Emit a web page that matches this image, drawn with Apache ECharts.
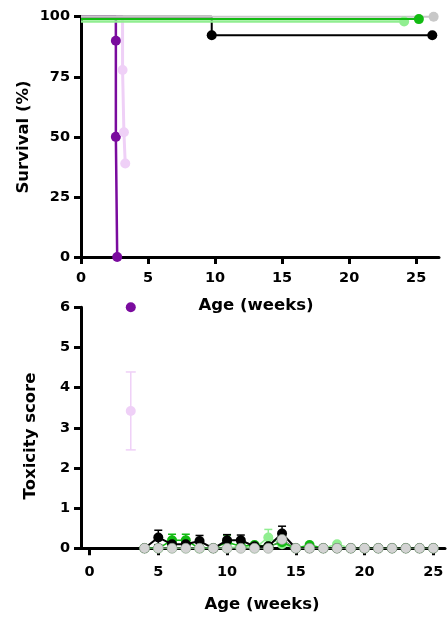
<!DOCTYPE html>
<html><head><meta charset="utf-8">
<script src="https://cdn.jsdelivr.net/npm/echarts@6/dist/echarts.min.js"></script>
<style>html,body{margin:0;padding:0;background:#fff}#c{width:447px;height:618px}</style>
</head><body><div id="c"></div>
<script>
// ---- Survival (Kaplan-Meier steps) ----
const survTicksX = [0, 5, 10, 15, 20, 25];
const survTicksY = [0, 25, 50, 75, 100];
const blackT = [0, 9.75, 26.2];       const blackS = [100, 92.3, 92.3];   const blackM = [0, 1, 1];
const grayT = [0, 26.3];              const grayS = [100, 100];           const grayM = [0, 1];
const lgreenT = [0, 24.1];            const lgreenS = [98, 98];           const lgreenM = [0, 1];
const greenT = [0, 25.2];             const greenS = [99, 99];            const greenM = [0, 1];
const purpleT = [0, 2.6, 2.6, 2.7];   const purpleS = [100, 90, 50, 0];   const purpleM = [0, 1, 1, 1];
const pinkT = [0, 3.1, 3.2, 3.3];     const pinkS = [100, 77.8, 51.9, 38.9]; const pinkM = [0, 1, 1, 1];

// ---- Toxicity score ----
const toxTicksX = [0, 5, 10, 15, 20, 25];
const toxTicksY = [0, 1, 2, 3, 4, 5, 6];
const weeks = [4,5,6,7,8,9,10,11,12,13,14,15,16,17,18,19,20,21,22,23,24,25];
const blackTox   = [0,0.27,0.1,0.1,0.18,0,0.2,0.2,0.05,0.05,0.37,0,0,0,0,0,0,0,0,0,0,0];
const blackErr   = [0,0.18,0,0,0.14,0,0.14,0.13,0,0,0.18,0,0,0,0,0,0,0,0,0,0,0];
const greenTox   = [0,0,0.2,0.2,0,0,0.15,0.05,0.08,0.05,0.15,0,0.08,0,0,0,0,0,0,0,0,0];
const greenErr   = [0,0,0.15,0.15,0,0,0.18,0,0,0,0,0,0,0,0,0,0,0,0,0,0,0];
const lgreenTox  = [0,0,0,0,0,0,0,0.05,0,0.27,0.1,0,0,0,0.1,0,0,0,0,0,0,0];
const lgreenErr  = [0,0,0,0,0,0,0,0,0,0.2,0,0,0,0,0,0,0,0,0,0,0,0];
const grayTox    = [0,0,0,0,0,0,0,0,0,0,0.22,0,0,0,0,0,0,0,0,0,0,0];
const pinkWeek = [3];   const pinkTox = [3.42];  const pinkErr = [0.97];
const purpleWeek = [3]; const purpleTox = [6.0];

const C = {black:'#000000', gray:'#d3d3d3', green:'#12bb12', lgreen:'#90ee90', purple:'#7a0b9e', pink:'#efd0f7'};
const FONT = '"DejaVu Sans", Verdana, sans-serif';

function km(name, T, S, M, color, size, lw, z) {
  return {
    type: 'line', name, xAxisIndex: 0, yAxisIndex: 0, step: 'end', z,
    data: T.map((t, i) => ({value: [t, S[i]], symbol: M[i] ? 'circle' : 'none'})),
    symbolSize: size, showAllSymbol: true, clip: false,
    lineStyle: {color, width: lw}, itemStyle: {color}, animation: false
  };
}
function toxLine(name, X, Y, color, lineColor, lw, z, border) {
  return {
    type: 'line', name, xAxisIndex: 1, yAxisIndex: 1, z,
    data: X.map((x, i) => [x, Y[i]]), symbol: 'circle', symbolSize: 10, showAllSymbol: true, clip: false,
    lineStyle: {color: lineColor, width: lw},
    itemStyle: border ? {color, borderColor: border, borderWidth: 0.6} : {color}, animation: false
  };
}
function errBars(name, X, Y, E, color, half, lw, z) {
  const data = [];
  X.forEach((x, i) => { if (E[i] > 0) data.push([x, Math.max(0, Y[i] - E[i]), Y[i] + E[i], Y[i] - E[i] > 0 ? 1 : 0]); });
  return {
    type: 'custom', name, xAxisIndex: 1, yAxisIndex: 1, z, data, clip: false, animation: false,
    encode: {x: 0, y: [1, 2]},
    renderItem: (p, api) => {
      const lo = api.coord([api.value(0), api.value(1)]);
      const hi = api.coord([api.value(0), api.value(2)]);
      const st = {stroke: color, lineWidth: lw};
      const ch = [
        {type: 'line', shape: {x1: lo[0], y1: lo[1], x2: hi[0], y2: hi[1]}, style: st},
        {type: 'line', shape: {x1: hi[0] - half, y1: hi[1], x2: hi[0] + half, y2: hi[1]}, style: st}
      ];
      if (api.value(3)) ch.push({type: 'line', shape: {x1: lo[0] - half, y1: lo[1], x2: lo[0] + half, y2: lo[1]}, style: st});
      return {type: 'group', children: ch};
    }
  };
}

const axLine = {show: true, onZero: false, lineStyle: {color: '#000', width: 3}};
const axTick = (vals) => ({show: true, length: 7, lineStyle: {color: '#000', width: 3}, customValues: vals});
const lab = (vals, margin) => ({color: '#000', fontFamily: FONT, fontWeight: 'bold', fontSize: 14.5, margin, customValues: vals});
const titleFont = 'bold 16.5px ' + FONT;
const title = (text, x, y, rot) => ({
  type: 'text', x, y, rotation: rot ? Math.PI / 2 : 0, silent: true,
  style: {text, font: titleFont, fill: '#000', align: 'center', verticalAlign: 'middle'}
});

const option = {
  backgroundColor: '#fff',
  grid: [
    {left: 81, top: 16.7, width: 358, height: 240.3},
    {left: 81, top: 307.3, width: 364, height: 241}
  ],
  graphic: [
    title('Age (weeks)', 256, 306, false),
    title('Survival (%)', 24, 137, true),
    title('Age (weeks)', 262, 605, false),
    title('Toxicity score', 31, 436, true)
  ],
  xAxis: [
    {type: 'value', gridIndex: 0, min: 0, max: 26.7, splitLine: {show: false},
     axisLine: axLine, axisTick: axTick(survTicksX), axisLabel: lab(survTicksX, 14)},
    {type: 'value', gridIndex: 1, min: -0.62, max: 25.85, splitLine: {show: false},
     axisLine: axLine, axisTick: axTick(toxTicksX), axisLabel: lab(toxTicksX, 16)}
  ],
  yAxis: [
    {type: 'value', gridIndex: 0, min: 0, max: 100, splitLine: {show: false},
     axisLine: axLine, axisTick: axTick(survTicksY), axisLabel: lab(survTicksY, 11)},
    {type: 'value', gridIndex: 1, min: 0, max: 6, splitLine: {show: false},
     axisLine: axLine, axisTick: axTick(toxTicksY), axisLabel: lab(toxTicksY, 11)}
  ],
  series: [
    km('Purple', purpleT, purpleS, purpleM, C.purple, 10, 2.5, 2),
    km('Pink', pinkT, pinkS, pinkM, C.pink, 10, 3, 2),
    km('Black', blackT, blackS, blackM, C.black, 10, 2, 3),
    km('Gray', grayT, grayS, grayM, '#c8c8c8', 10, 2, 4),
    km('Light green', lgreenT, lgreenS, lgreenM, C.lgreen, 10, 2.5, 5),
    km('Green', greenT, greenS, greenM, C.green, 10, 2, 6),

    errBars('Pink err', pinkWeek, pinkTox, pinkErr, C.pink, 5, 1.5, 10),
    toxLine('Pink tox', pinkWeek, pinkTox, C.pink, C.pink, 1, 11),
    toxLine('Purple tox', purpleWeek, purpleTox, C.purple, C.purple, 1, 11),
    errBars('Light green err', weeks, lgreenTox, lgreenErr, C.lgreen, 4, 1.5, 12),
    toxLine('Light green tox', weeks, lgreenTox, C.lgreen, C.lgreen, 1.5, 13),
    errBars('Green err', weeks, greenTox, greenErr, C.green, 4, 1.5, 14),
    toxLine('Green tox', weeks, greenTox, C.green, C.green, 1.5, 15),
    errBars('Black err', weeks, blackTox, blackErr, C.black, 4, 1.5, 16),
    toxLine('Black tox', weeks, blackTox, C.black, C.black, 2, 17),
    toxLine('Gray tox', weeks, grayTox, C.gray, '#5d7a5d', 1, 18, '#8f9f8f')
  ]
};
const chart = echarts.init(document.getElementById('c'), null, {renderer: 'canvas'});
chart.setOption(option);
</script></body></html>
